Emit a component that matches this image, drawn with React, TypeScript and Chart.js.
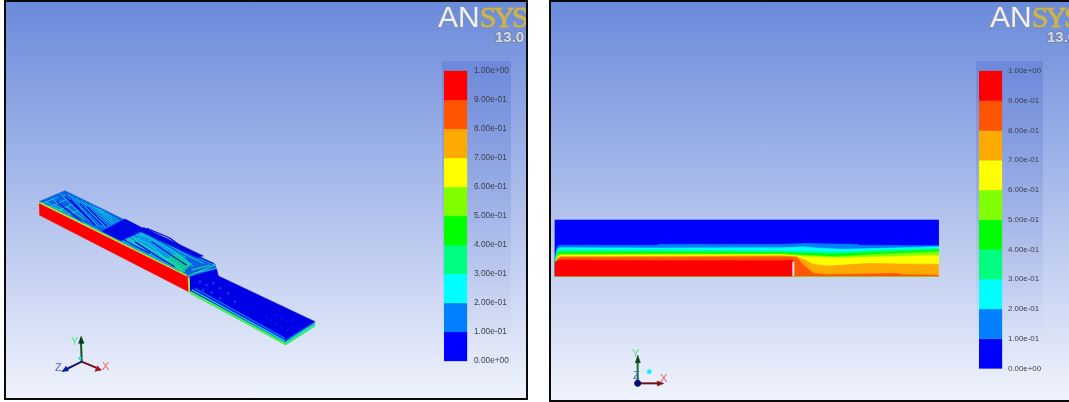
import React, { useEffect, useRef } from "react";
import { Chart, registerables } from "chart.js";

Chart.register(...registerables);

type P = [number, number];

// Colour bar
const legendLevels = [0, 0.1, 0.2, 0.3, 0.4, 0.5, 0.6, 0.7, 0.8, 0.9, 1];
const legendLabels = ["0.00e+00", "1.00e-01", "2.00e-01", "3.00e-01", "4.00e-01", "5.00e-01", "6.00e-01", "7.00e-01", "8.00e-01", "9.00e-01", "1.00e+00"];
const legendColors = ["#0000ff", "#0080ff", "#00ffff", "#00ff80", "#00ff00", "#80ff00", "#ffff00", "#ffaa00", "#ff5500", "#ff0000"];

// Left view: 3-D block outline
const sideRed: P[] = [[117, 97], [562, 318], [566, 365], [118, 135]];
const topUpstream: P[] = [[117, 95], [195, 62], [645, 282], [650, 300], [565, 320]];
const cyanPatch: P[] = [[360, 212], [430, 190], [560, 262], [510, 288]];
const greenPatch: P[] = [[490, 270], [530, 250], [575, 282], [545, 308]];
const blueWedge: P[] = [[305, 185], [375, 147], [435, 178], [360, 214]];
const backBand: P[] = [[430, 172], [610, 258], [590, 262], [420, 184]];
const topDownstream: P[] = [[566, 322], [650, 298], [655, 318], [945, 455], [855, 515], [570, 362]];
const sideThin: P[] = [[568, 362], [855, 516], [945, 458], [943, 470], [857, 525], [568, 369]];
const frontEdge: P[] = [[117, 97], [562, 318]];
const frontTeal: P[] = [[125, 96], [560, 313]];
const stepEdge: P[] = [[567, 322], [568, 365]];
const thinGreen: P[] = [[572, 366], [855, 521]];
const thinCyan: P[] = [[575, 359], [855, 513]];
const thinAzure: P[] = [[585, 355], [855, 505]];
const thinEnd: P[] = [[857, 519], [945, 464]];
const thinEndAzure: P[] = [[857, 511], [943, 458]];

const cyanStreaks: P[][] = [
  [[180, 70], [250, 140]],
  [[205, 72], [295, 170]],
  [[230, 85], [320, 175]],
  [[255, 97], [335, 165]],
  [[280, 108], [345, 160]],
  [[300, 118], [360, 155]],
  [[155, 85], [235, 150]],
  [[135, 93], [220, 145]],
  [[130, 100], [175, 80]],
  [[150, 110], [200, 88]],
  [[175, 122], [225, 100]],
  [[200, 135], [245, 118]],
  [[220, 145], [270, 170]],
  [[245, 155], [300, 182]],
  [[190, 72], [270, 155]],
  [[218, 78], [308, 172]],
  [[243, 91], [328, 170]],
  [[268, 102], [340, 162]],
  [[290, 113], [352, 158]],
  [[370, 185], [440, 200], [520, 245], [580, 290]],
  [[410, 185], [480, 210], [550, 250], [610, 280]],
  [[470, 195], [530, 225], [600, 265], [645, 285]],
  [[430, 225], [490, 260], [550, 295]],
  [[385, 195], [450, 225], [505, 275]],
  [[345, 195], [410, 225], [470, 260]],
  [[330, 180], [380, 205], [440, 245]],
  [[585, 320], [640, 325]],
  [[600, 340], [650, 335]],
  [[580, 310], [650, 295]],
];
const greenStreaks: P[][] = [
  [[360, 190], [420, 225], [500, 275], [555, 305]],
  [[400, 205], [470, 250], [545, 300]],
  [[500, 215], [560, 245], [610, 270]],
  [[565, 318], [645, 285]],
  [[575, 300], [630, 285]],
  [[600, 318], [650, 305]],
  [[165, 105], [215, 135]],
  [[200, 110], [255, 150]],
  [[145, 108], [190, 124]],
];
const blueStreaks: P[][] = [
  [[195, 80], [270, 150]],
  [[240, 100], [305, 165]],
  [[170, 95], [250, 160]],
  [[212, 90], [285, 165]],
  [[262, 110], [322, 170]],
  [[440, 175], [510, 205], [570, 250], [640, 280]],
  [[455, 215], [520, 260], [560, 285]],
  [[405, 215], [470, 258], [525, 290]],
  [[340, 190], [400, 225], [450, 250]],
];
const downstreamDots: P[] = [[800, 440], [815, 450], [830, 462], [845, 472], [860, 482], [875, 470], [860, 455], [845, 445], [825, 435], [880, 450], [895, 465], [880, 490], [900, 478]];
const downstreamSpeckle: P[] = [[600, 335], [620, 345], [640, 340], [610, 360], [635, 368], [660, 355], [685, 370], [660, 385], [705, 395]];

// Left view triad
const triadY: P[] = [[245, 575], [243, 515]];
const triadYTip: P[] = [[243, 498], [252, 520], [235, 520]];
const triadX: P[] = [[245, 575], [288, 593]];
const triadXTip: P[] = [[305, 600], [285, 604], [292, 587]];
const triadZ: P[] = [[245, 575], [200, 597]];
const triadZTip: P[] = [[185, 606], [198, 589], [206, 603]];
const triadDot: P[] = [[240, 565]];

// Right view contour boundaries, top down
const contourRect: P[] = [[14, 30], [1165, 30], [1165, 198], [14, 198]];
const contour01: P[] = [[14, 155], [20, 115], [25, 106], [320, 106], [330, 103], [700, 103], [780, 100], [800, 101], [920, 103], [930, 106], [1165, 107], [1165, 198], [14, 198]];
const contour02: P[] = [[14, 155], [22, 118], [30, 113], [320, 114], [700, 113], [735, 112], [760, 110], [800, 114], [880, 118], [1000, 115], [1165, 110], [1165, 198], [14, 198]];
const contour03: P[] = [[14, 155], [22, 123], [30, 120], [300, 120], [700, 123], [740, 125], [790, 125], [880, 126], [1000, 120], [1165, 116], [1165, 198], [14, 198]];
const contour04: P[] = [[16, 150], [24, 128], [300, 127], [700, 128], [760, 130], [850, 133], [1000, 127], [1165, 120], [1165, 198], [16, 198]];
const contour05: P[] = [[18, 146], [25, 133], [300, 132], [700, 132], [770, 136], [860, 140], [1000, 132], [1165, 125], [1165, 198], [18, 198]];
const contour06: P[] = [[20, 145], [28, 136], [300, 135], [700, 134], [760, 140], [860, 143], [1000, 140], [1165, 136], [1165, 198], [20, 198]];
const contour07: P[] = [[20, 147], [30, 140], [300, 139], [700, 137], [740, 140], [765, 150], [790, 163], [830, 168], [880, 165], [960, 160], [1050, 162], [1165, 163], [1165, 198], [20, 198]];
const contour08: P[] = [[20, 150], [30, 142], [300, 142], [700, 140], [740, 142], [760, 165], [790, 190], [830, 194], [940, 192], [1040, 190], [1060, 194], [1165, 196], [1165, 198], [20, 198]];
const contour09: P[] = [[14, 156], [30, 150], [300, 152], [700, 152], [728, 150], [728, 198], [14, 198]];
const notchLine: P[] = [[730, 155], [730, 198]];

// Right view triad
const triad2Y: P[] = [[263, 520], [263, 450]];
const triad2YTip: P[] = [[263, 435], [271, 458], [255, 458]];
const triad2X: P[] = [[263, 520], [325, 520]];
const triad2XTip: P[] = [[342, 520], [322, 528], [322, 512]];
const triad2Origin: P[] = [[263, 520]];
const triad2Dot: P[] = [[298, 485]];

const tp = (pts: P[]) => pts.map(([x, y]) => ({ x, y }));

const poly = (pts: P[], color: string, edge = 0.6) => ({
  data: tp(pts),
  showLine: true,
  fill: "shape",
  backgroundColor: color,
  borderColor: color,
  borderWidth: edge,
  pointRadius: 0,
  tension: 0,
});
const path = (pts: P[], color: string, width: number) => ({
  data: tp(pts),
  showLine: true,
  fill: false,
  borderColor: color,
  borderWidth: width,
  pointRadius: 0,
  tension: 0.25,
});
const dot = (pts: P[], color: string, radius: number) => ({
  data: tp(pts),
  showLine: false,
  backgroundColor: color,
  borderColor: color,
  pointRadius: radius,
});

const legendBars = (x0: number, x1: number) =>
  legendColors.map((c, i) => ({
    ...poly([[x0, legendLevels[i]], [x1, legendLevels[i]], [x1, legendLevels[i + 1]], [x0, legendLevels[i + 1]]], c, 0.3),
    yAxisID: "legend",
  }));

const leftSets = () => [
  poly(sideRed, "#ff0000"),
  poly(topUpstream, "#0a62e2"),
  poly(cyanPatch, "#0e9ae6"),
  poly(greenPatch, "#10c890"),
  ...cyanStreaks.map((s) => path(s, "#12d4ea", 0.9)),
  ...greenStreaks.map((s) => path(s, "#28e09a", 1)),
  ...blueStreaks.map((s) => path(s, "#0000e8", 1.1)),
  poly(blueWedge, "#0008e8"),
  poly(backBand, "#0008e0"),
  path(frontTeal, "#18c8b0", 1),
  path(frontEdge, "#c8f020", 1.3),
  poly(sideThin, "#30e878"),
  poly(topDownstream, "#0000e6"),
  dot(downstreamDots, "#0a1cf0", 0.7),
  dot(downstreamSpeckle, "#0a50ea", 0.8),
  path(thinAzure, "#0070ff", 1.5),
  path(thinCyan, "#18c8f0", 1.5),
  path(thinGreen, "#48f040", 1.8),
  path(thinEndAzure, "#0070ff", 1.2),
  path(thinEnd, "#20e8a0", 1.5),
  path(stepEdge, "#b8f020", 1.5),
  path(triadY, "#0a5a20", 2),
  poly(triadYTip, "#063a18"),
  path(triadX, "#701018", 2),
  poly(triadXTip, "#a01018"),
  path(triadZ, "#101860", 2),
  poly(triadZTip, "#0818a0"),
  dot(triadDot, "#20e0f0", 1.2),
  ...legendBars(1332, 1401),
];

const rightSets = () => [
  poly(contourRect, "#0000ff"),
  poly(contour01, "#0080ff"),
  poly(contour02, "#00ffff"),
  poly(contour03, "#00ff80"),
  poly(contour04, "#00ff00"),
  poly(contour05, "#80ff00"),
  poly(contour06, "#ffff00"),
  poly(contour07, "#ffaa00"),
  poly(contour08, "#ff5500"),
  poly(contour09, "#ff0000"),
  path(notchLine, "#e8e8f4", 2),
  path(triad2Y, "#0a7a20", 2),
  poly(triad2YTip, "#084a18"),
  path(triad2X, "#701018", 2),
  poly(triad2XTip, "#801018"),
  dot(triad2Origin, "#000a70", 3),
  dot(triad2Dot, "#10f0ff", 2),
  ...legendBars(1287, 1356),
];

function View(props: {
  sets: () => any[];
  width: number;
  height: number;
  xRange: [number, number];
  yRange: [number, number];
  legendRange: [number, number];
  axisWidth: number;
  tickFont: number;
}) {
  const ref = useRef<HTMLCanvasElement | null>(null);
  useEffect(() => {
    const sets = props.sets();
    const n = sets.length;
    const chart = new Chart(ref.current as HTMLCanvasElement, {
      type: "scatter",
      data: { datasets: sets.map((d, i) => ({ ...d, order: n - i })) },
      options: {
        animation: false,
        responsive: false,
        maintainAspectRatio: false,
        layout: { padding: 0, autoPadding: false },
        plugins: { legend: { display: false }, tooltip: { enabled: false }, title: { display: false } },
        scales: {
          x: { type: "linear", display: false, min: props.xRange[0], max: props.xRange[1] },
          y: { type: "linear", display: false, reverse: true, min: props.yRange[0], max: props.yRange[1] },
          legend: {
            type: "linear",
            position: "right",
            min: props.legendRange[0],
            max: props.legendRange[1],
            grid: { display: false, drawTicks: false },
            border: { display: false },
            afterBuildTicks: (s: any) => {
              s.ticks = legendLevels.map((value) => ({ value }));
            },
            afterFit: (s: any) => {
              s.width = props.axisWidth;
              s.paddingTop = 0;
              s.paddingBottom = 0;
            },
            ticks: {
              autoSkip: false,
              padding: 3,
              color: "#3a3f4c",
              font: { family: "'Liberation Sans'", size: props.tickFont },
              callback: (_v: any, i: number) => legendLabels[i],
            },
          },
        },
      } as any,
    });
    return () => chart.destroy();
  }, []);
  return <canvas ref={ref} width={props.width} height={props.height} style={{ position: "absolute", left: 0, top: 0, display: "block" }} />;
}

const abs = (left: number, top: number, extra: React.CSSProperties = {}): React.CSSProperties => ({
  position: "absolute",
  left,
  top,
  whiteSpace: "nowrap",
  ...extra,
});

function Logo(props: { left: number; top: number }) {
  const { left, top } = props;
  return (
    <>
      <div style={abs(left, top, { fontFamily: "'Liberation Sans'", fontSize: 30, lineHeight: "30px" })}>
        <span style={{ color: "#eef2fb", WebkitTextStroke: "2px #7f8db8", paintOrder: "stroke fill" }}>AN</span>
        <span style={{ fontFamily: "'Liberation Serif'", letterSpacing: -3, color: "#cdb650", WebkitTextStroke: "1.4px #b0a268", paintOrder: "stroke fill" }}>SYS</span>
      </div>
      <div style={abs(left + 57, top + 26, { fontFamily: "'Liberation Sans'", fontWeight: 700, fontSize: 15, lineHeight: "18px", color: "#d5daea", WebkitTextStroke: "1.6px #747f9c", paintOrder: "stroke fill" })}>13.0</div>
    </>
  );
}

function Triad(props: { items: [string, number, number, string][] }) {
  return (
    <>
      {props.items.map(([t, x, y, c]) => (
        <div key={t} style={abs(x, y, { fontFamily: "'Liberation Sans'", fontSize: 11, lineHeight: "12px", color: c })}>{t}</div>
      ))}
    </>
  );
}

const panelBase: React.CSSProperties = {
  position: "absolute",
  boxSizing: "border-box",
  border: "2px solid #0a0a0a",
  overflow: "hidden",
  background: "linear-gradient(#6a8adb, #f0f3fc)",
};

export default function App() {
  return (
    <div style={{ position: "absolute", left: 0, top: 0, width: 1069, height: 402, overflow: "hidden", background: "#fff" }}>
      <div style={{ ...panelBase, left: 4, top: 0, width: 524, height: 400 }}>
        <div style={{ position: "absolute", inset: 0, filter: "blur(0.7px)" }}>
          <div style={abs(436, 59, { width: 69, height: 280, background: "linear-gradient(rgba(70,100,205,0.3), rgba(70,100,205,0))" })} />
          <View sets={leftSets} width={520} height={396} xRange={[18, 1413]} yRange={[-504, 684]} legendRange={[-0.1276, 1.2379]} axisWidth={55} tickFont={8.3} />
          <Logo left={432} top={0} />
          <Triad items={[["Y", 65, 333, "#50e878"], ["X", 96, 358, "#e86060"], ["Z", 49, 359, "#5060e0"]]} />
        </div>
      </div>
      <div style={{ ...panelBase, left: 549, top: 0, width: 522, height: 402 }}>
        <div style={{ position: "absolute", inset: 0, filter: "blur(0.7px)" }}>
          <div style={abs(425, 59, { width: 67, height: 280, background: "linear-gradient(rgba(70,100,205,0.3), rgba(70,100,205,0))" })} />
          <View sets={rightSets} width={518} height={398} xRange={[3, 1365]} yRange={[-624, 570]} legendRange={[-0.1059, 1.2319]} axisWidth={64} tickFont={7.9} />
          <Logo left={439} top={0} />
          <Triad items={[["Y", 81, 345, "#50e878"], ["X", 109, 370, "#e86060"], ["Z", 82, 367, "#5060e0"]]} />
        </div>
      </div>
    </div>
  );
}
